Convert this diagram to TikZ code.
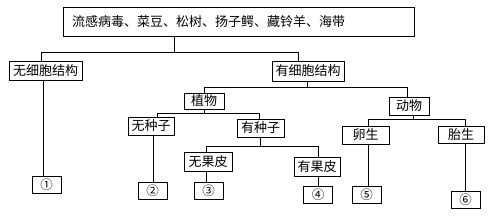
\documentclass[tikz,border=0pt]{standalone}
\usepackage{fontspec}
\newfontfamily\cjk{Noto Sans CJK SC}
\begin{document}
\begin{tikzpicture}[x=1pt,y=-1pt,
  box/.style={draw,line width=0.9pt,inner sep=0pt,font=\cjk\fontsize{13}{15}\selectfont},
  numbox/.style={draw,line width=0.9pt,inner sep=0pt,minimum width=29pt,minimum height=17pt,font=\cjk\fontsize{12.5}{14}\selectfont},
  link/.style={line width=0.9pt}]
\useasboundingbox (0,0) rectangle (495,215);
\node[box,text width=333pt,align=left,inner xsep=9pt,minimum height=29pt] (top) at (238.5,21.5) {流感病毒、菜豆、松树、扬子鳄、藏铃羊、海带};
\node[box,minimum width=73pt,minimum height=19pt] (nocell) at (45.5,70.5) {无细胞结构};
\node[box,minimum width=72pt,minimum height=20pt] (cell) at (308,71) {有细胞结构};
\node[box,minimum width=40pt,minimum height=16pt] (plant) at (204,101) {植物};
\node[box,minimum width=40pt,minimum height=18pt] (animal) at (409,106) {动物};
\node[box,minimum width=46pt,minimum height=18pt] (noseed) at (151,126) {无种子};
\node[box,minimum width=47pt,minimum height=18pt] (seed) at (260.5,128) {有种子};
\node[box,minimum width=48pt,minimum height=19pt] (nopeel) at (208,161.5) {无果皮};
\node[box,minimum width=46pt,minimum height=19pt] (peel) at (317,166.5) {有果皮};
\node[box,minimum width=47pt,minimum height=18pt] (egg) at (365.5,135) {卵生};
\node[box,minimum width=46pt,minimum height=17pt] (viv) at (461,134.5) {胎生};
\node[numbox] (c1) at (46.5,184.5) {①};
\node[numbox] (c2) at (152.5,190.5) {②};
\node[numbox] (c3) at (208.5,190.5) {③};
\node[numbox] (c4) at (318,195) {④};
\node[numbox] (c5) at (366.5,194.5) {⑤};
\node[numbox] (c6) at (465.5,200) {⑥};
% buses
\coordinate (b1) at (174,52);
\coordinate (b2) at (307,87);
\coordinate (b3) at (204,113);
\coordinate (b4) at (260,146);
\coordinate (b5) at (413,119);
\draw[link] (top.south -| b1) -- (b1) -| ([xshift=-4.5pt]nocell.north);
\draw[link] (b1) -| ([xshift=-10pt]cell.north);
\draw[link] (cell.south -| b2) -- (b2) -| (plant.north);
\draw[link] (b2) -| ([xshift=-2pt]animal.north);
\draw[link] (plant.south -| b3) -- (b3) -| ([xshift=6pt]noseed.north);
\draw[link] (b3) -| ([xshift=-1.5pt]seed.north);
\draw[link] (seed.south -| b4) -- (b4) -| ([xshift=-2pt]nopeel.north);
\draw[link] (b4) -| ([xshift=1pt]peel.north);
\draw[link] (animal.south -| b5) -- (b5) -| ([xshift=2.5pt]egg.north);
\draw[link] (b5) -| ([xshift=4pt]viv.north);
% leaves
\draw[link] ([xshift=-2.5pt]nocell.south) -- ([xshift=-3.5pt]c1.north);
\draw[link] ([xshift=2pt]noseed.south) -- ([xshift=0.5pt]c2.north);
\draw[link] ([xshift=-2pt]nopeel.south) -- ([xshift=-2.5pt]c3.north);
\draw[link] ([xshift=1pt]peel.south) -- (c4.north);
\draw[link] ([xshift=2.5pt]egg.south) -- ([xshift=1.5pt]c5.north);
\draw[link] ([xshift=4pt]viv.south) -- ([xshift=-0.5pt]c6.north);
\end{tikzpicture}
\end{document}
